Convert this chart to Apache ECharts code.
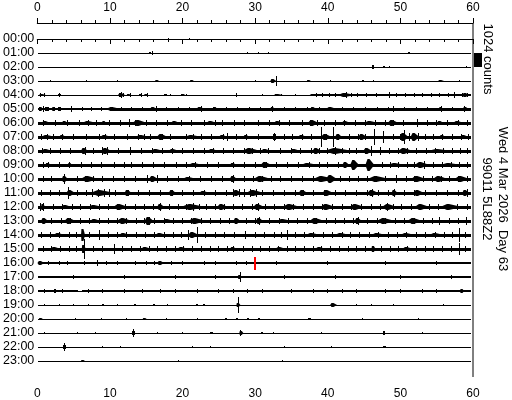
<!DOCTYPE html>
<html>
<head>
<meta charset="utf-8">
<script src="https://cdn.jsdelivr.net/npm/echarts@6/dist/echarts.min.js"></script>
<style>html,body{margin:0;padding:0;background:#fff}#c{width:512px;height:400px}</style>
</head>
<body>
<div id="c"></div>
<script>
// ---- data ----
const hourLabels = ['00:00','01:00','02:00','03:00','04:00','05:00','06:00','07:00','08:00','09:00','10:00','11:00',
  '12:00','13:00','14:00','15:00','16:00','17:00','18:00','19:00','20:00','21:00','22:00','23:00'];
const xTicks = [0, 10, 20, 30, 40, 50, 60];
const countsPerRow = 1024;           // trace offset between hour rows (= scale bar)
const scaleBarCounts = 1024;
const scaleLabel = '1024 counts';
const dateLabel = 'Wed 4 Mar 2026  Day 63';
const stationLabel = '99011 5L88Z2';

// background noise per row: [fromMinute, toMinute, peak-to-peak counts]
const noiseBands = [
  [[0.1,59.7,70]],
  [[0.1,59.7,70]],
  [[0.1,59.7,70]],
  [[0.1,59.7,70]],
  [[0.1,59.7,80],[38,59.7,120]],
  [[0.1,10,110],[10,59.7,210]],
  [[0.1,59.7,220]],
  [[0.1,59.7,230]],
  [[0.1,59.7,230]],
  [[0.1,59.7,220]],
  [[0.1,59.7,240]],
  [[0.1,59.7,250]],
  [[0.1,59.7,250]],
  [[0.1,59.7,240]],
  [[0.1,59.7,230]],
  [[0.1,59.7,210]],
  [[0.1,30,170],[30,59.7,160]],
  [[0.1,59.7,180]],
  [[0.1,5.6,140],[5.6,6.1,70],[6.1,59.7,140]],
  [[0.1,59.7,70]],
  [[0.1,59.7,70]],
  [[0.1,59.7,70]],
  [[0.1,59.7,70]],
  [[0.1,59.7,70]]
];

// bursts per row: [minute, half amplitude counts, duration minutes]
const bursts = [
  /*00*/ [[18.1,70,0.15],[21.0,70,0.15]],
  /*01*/ [[15.5,80,0.3],[15.9,170,0.15],[29.0,50,0.1],[30.4,50,0.1],[31.8,60,0.2],[51.2,90,0.3]],
  /*02*/ [[46.2,110,0.3],[47.8,60,0.3],[48.5,60,0.2],[59.1,70,0.1]],
  /*03*/ [[1.8,50,0.1],[6.8,50,0.1],[11.1,50,0.1],[16.5,80,0.6],[21.3,90,0.5],[30.0,50,0.2],[32.5,110,0.8],
          [33.0,350,0.15],[37.4,90,0.6],[40.4,50,0.1],[44.8,60,0.3],[46.3,70,0.1],[55.6,80,0.8],[58.2,50,0.1]],
  /*04*/ [[0.7,90,0.9],[3.1,100,0.4],[11.6,130,1.0],[12.6,90,0.6],[14.2,90,0.4],[15.0,100,0.5],
          [17.6,80,0.4],[20.1,70,0.6],[33.2,80,1.2],[38.0,90,1.0],[39.8,100,2.0],[42.6,130,2.5],[44.8,100,1.5],
          [46.7,90,0.5],[49.5,100,1.0],[51.5,90,1.5],[54.0,100,2.0],[56.2,100,1.5],[59.0,110,1.0]],
  /*05*/ [[0.5,170,0.6],[1.3,150,0.4],[2.3,110,0.5],[3.0,120,0.4],[5.5,90,0.8],[8.5,100,1.5],
          [10.5,150,2.0],[16.0,170,1.0],[22.5,150,1.2],[24.5,140,0.6],[32.4,150,0.5],[38.0,140,0.8],
          [40.5,140,1.5],[55.6,150,0.6],[59.0,160,0.8]],
  /*06*/ [[1.2,170,1.2],[3.8,160,0.8],[7.2,170,2.0],[9.2,160,0.6],[14.1,190,2.0],
          [19.0,160,1.2],[24.0,160,1.5],[33.2,180,1.2],[38.0,190,1.5],
          [42.5,170,1.2],[46.0,160,2.0],[49.0,190,1.5],[55.5,160,1.0],[58.0,170,1.5]],
  /*07*/ [[1.5,180,2.0],[3.5,170,1.0],[9.4,170,1.5],[14.5,180,2.0],[17.2,190,1.5],[21.5,180,2.5],[25.6,180,1.2],
          [28.8,170,0.8],[32.6,240,0.4],[36.5,180,1.2],[39.1,730,0.15],[40.8,730,0.15],
          [39.8,230,1.5],[41.5,210,1.0],[44.8,190,1.2],[46.4,580,0.15],[47.7,430,0.15],[50.5,280,1.2],
          [50.6,500,0.15],[52.0,300,1.2],[55.8,180,0.8],[58.8,180,1.2]],
  /*08*/ [[1.3,180,1.5],[6.5,190,1.0],[9.5,250,1.4],[16.5,180,1.8],[18.8,180,1.5],[24.2,170,1.5],[29.5,190,2.5],
          [31.5,180,1.5],[35.5,170,1.5],[38.5,200,1.2],[41.5,220,4.0],[45.5,230,1.2],[50.7,190,2.0],[55.5,180,3.5]],
  /*09*/ [[1.5,170,0.8],[4.5,180,0.5],[21.8,180,2.0],[27.0,170,1.0],[31.5,190,1.5],[37.5,180,2.5],[42.5,190,1.0],
          [43.7,330,1.2],[45.8,440,1.2],[49.5,180,2.5],[53.0,190,2.0],[57.0,170,3.0]],
  /*10*/ [[3.8,210,0.8],[7.2,190,2.5],[16.0,250,1.2],[21.0,180,2.0],[27.0,230,1.0],[31.0,200,2.5],
          [39.5,220,3.0],[40.5,320,1.5],[47.0,200,3.0],[52.5,200,2.0],[55.5,210,2.0],[58.5,210,2.0]],
  /*11*/ [[4.6,230,1.2],[9.0,240,3.5],[12.5,190,1.0],[18.6,210,1.0],[23.0,180,1.5],[27.5,250,1.2],
          [30.0,230,2.5],[36.6,210,1.2],[40.0,200,1.5],[46.2,230,1.5],[49.2,210,0.8],[52.5,190,1.5],[59.0,230,1.0]],
  /*12*/ [[0.8,220,0.6],[4.0,180,1.5],[8.0,180,2.0],[11.5,190,2.0],[17.0,250,1.0],[21.5,220,3.5],[25.5,190,1.5],
          [30.5,250,1.5],[35.0,200,2.5],[40.0,190,2.0],[44.0,190,2.0],[48.5,230,2.0],[53.0,190,2.0],[57.0,200,3.0]],
  /*13*/ [[1.0,200,1.0],[4.5,190,1.5],[8.0,180,1.5],[12.0,190,2.0],[15.4,290,1.2],[18.0,180,1.5],[22.0,190,2.5],
          [27.5,210,1.0],[30.6,200,1.0],[34.0,180,2.0],[38.5,190,2.0],[44.2,210,1.0],[48.0,200,2.5],[52.0,190,2.0]],
  /*14*/ [[3.0,180,1.5],[6.3,430,0.6],[12.0,170,1.5],[17.0,170,1.5],[21.5,210,1.5],
          [22.1,580,0.15],[38.0,180,2.0],[42.0,180,2.0],[47.0,180,2.0],
          [51.0,180,2.0],[55.0,180,2.0],[58.1,500,0.2]],
  /*15*/ [[2.5,150,1.5],[6.4,300,0.5],[6.5,730,0.15],[15.0,150,1.5],[20.0,150,1.5],[27.0,160,1.0],
          [33.5,150,1.5],[39.0,150,1.5],[46.3,240,0.6],[51.0,150,1.5],[58.2,430,0.15]],
  /*16*/ [[0.5,110,1.0],[5.0,100,0.5],[8.3,190,0.15],[12.0,100,0.5],[17.0,110,1.0],[21.5,100,0.4],[26.0,100,0.3],
          [36.0,90,0.3],[45.0,90,0.3]],
  /*17*/ [[24.5,110,0.2],[27.9,160,0.6],[28.0,370,0.2],[34.0,100,0.2]],
  /*18*/ [[2.5,150,0.3],[10.0,90,0.3],[20.5,90,0.3],[33.0,90,0.3],[46.0,90,0.3],[58.5,150,0.5]],
  /*19*/ [[1.0,50,0.1],[3.0,50,0.1],[5.0,50,0.1],[7.0,50,0.1],[9.0,60,0.3],[11.0,50,0.1],[13.5,60,0.3],[16.1,90,0.3],
          [18.0,50,0.1],[22.0,60,0.3],[23.0,60,0.3],[27.7,180,0.5],[27.7,580,0.15],[40.8,110,1.0],[44.0,50,0.1],
          [46.0,50,0.1],[49.0,50,0.1],[56.0,50,0.1]],
  /*20*/ [[0.5,60,0.6],[5.2,50,0.1],[8.8,50,0.1],[12.3,50,0.1],[14.8,70,0.5],[17.8,50,0.2],[22.0,50,0.2],
          [26.0,50,0.3],[27.5,60,0.3],[29.0,50,0.3],[30.5,70,0.3],[37.5,60,0.4],[44.8,50,0.1],[52.5,50,0.1]],
  /*21*/ [[1.0,50,0.2],[5.5,50,0.1],[8.0,50,0.1],[13.2,290,0.15],[13.3,130,0.4],[16.5,50,0.1],[20.0,60,0.2],
          [24.0,60,0.4],[28.0,220,0.15],[28.1,120,0.5],[31.0,60,0.3],[32.5,60,0.1],[39.2,60,0.1],[47.7,110,0.3],[53.0,50,0.1]],
  /*22*/ [[3.8,290,0.15],[3.8,110,0.4],[9.0,50,0.1],[11.5,50,0.1],[21.4,70,0.2],[23.8,80,0.2],[34.0,50,0.1],
          [40.5,50,0.1],[47.8,70,0.4]],
  /*23*/ [[6.3,100,0.5],[19.4,90,0.15],[33.8,50,0.1]]
];

// short single wiggles (1 px wide) per row: [minute, half amplitude counts]
const spikes = [
  /*00*/ [], /*01*/ [], /*02*/ [], /*03*/ [],
  /*04*/ [[0.5,110],[1.0,110],[3.1,130],[11.3,150],[11.6,200],[11.9,150],[12.8,110],[14.3,120],[15.2,120],[17.5,100],
          [18.4,90],[19.9,100],[20.6,100],[27.4,130],[31.0,90],[32.8,100],[33.6,100],[35.5,80],[38.4,110],[39.3,120],
          [40.2,110],[41.0,110],[42.4,150],[42.6,200],[43.3,140],[44.1,130],[45.4,120],[46.7,110],[48.5,200],[49.4,120],
          [50.7,110],[51.9,120],[53.1,110],[54.3,120],[55.4,110],[56.6,120],[57.4,200],[58.5,120],[59.3,130]],
  /*05*/ [[0.3,170],[0.9,190],[1.6,150],[2.4,140],[3.2,140],[4.7,220],[6.2,120],[7.4,120],[8.9,120],[10.3,160],
          [11.6,180],[13.0,170],[14.5,180],[16.4,240],[17.8,170],[19.4,180],[21.0,180],[22.6,190],[24.2,180],[26.0,170],
          [27.6,170],[29.2,180],[30.8,170],[32.4,190],[34.0,180],[35.6,170],[37.2,180],[38.8,180],[40.4,180],[42.0,170],
          [43.6,180],[45.2,180],[46.8,170],[48.4,180],[49.0,200],[50.6,170],[52.2,180],[53.8,170],[55.6,200],[57.2,180],[58.8,210]],
  /*06*/ [[0.8,210],[2.5,200],[4.2,220],[5.8,200],[7.0,230],[8.2,210],[10.0,200],[11.5,210],[12.7,270],[13.5,220],
          [15.0,210],[16.4,250],[18.0,200],[19.8,210],[21.2,200],[23.0,210],[24.5,220],[25.5,250],[27.1,240],[28.5,200],
          [30.5,210],[32.0,200],[33.3,220],[34.8,210],[36.5,200],[37.6,220],[38.6,230],[39.6,250],[41.0,210],[42.3,220],
          [43.8,200],[45.2,210],[46.6,220],[48.0,210],[49.0,240],[50.4,210],[52.4,270],[53.7,210],[55.0,200],[56.5,210],
          [58.0,220],[59.2,210]],
  /*07*/ [[0.6,220],[1.4,230],[2.3,210],[3.5,230],[5.0,210],[6.8,200],[8.5,220],[9.4,230],[10.6,210],[12.4,200],
          [14.0,220],[14.8,230],[15.6,220],[17.2,240],[18.4,210],[20.5,220],[21.5,240],[22.6,220],[24.0,210],[25.6,230],
          [26.2,280],[27.5,210],[28.8,230],[30.5,210],[32.6,280],[34.0,210],[35.2,220],[36.5,230],[37.8,210],[39.8,250],
          [41.5,240],[43.0,220],[44.3,230],[45.2,220],[49.0,230],[50.0,250],[51.2,260],[52.5,270],[53.5,230],[54.5,220],
          [55.8,230],[57.2,220],[58.4,230],[59.4,220]],
  /*08*/ [[0.7,220],[1.8,210],[3.2,220],[4.6,210],[6.6,270],[7.8,220],[9.0,310],[9.7,310],[11.2,210],[12.9,260],
          [14.3,210],[15.8,220],[17.2,230],[18.6,220],[20.0,210],[21.5,220],[23.0,210],[24.2,220],[25.6,210],[27.0,220],
          [28.5,230],[29.6,240],[30.7,230],[31.8,220],[33.5,210],[35.0,220],[36.2,210],[37.7,230],[38.8,240],[40.0,250],
          [41.0,260],[42.0,250],[43.0,240],[44.0,230],[45.2,250],[46.0,330],[47.2,280],[48.5,220],[49.8,230],[51.0,220],
          [52.2,210],[53.6,220],[54.8,230],[56.0,220],[57.2,230],[58.3,220],[59.3,210]],
  /*09*/ [[0.8,200],[1.5,210],[3.0,200],[4.5,220],[6.1,250],[7.5,200],[8.8,240],[10.7,210],[12.0,200],[13.0,210],
          [14.5,200],[16.0,200],[17.5,210],[19.2,210],[20.5,200],[21.8,220],[23.5,200],[25.0,200],[27.0,220],[28.5,200],
          [30.0,210],[31.5,220],[33.0,200],[34.5,210],[36.0,210],[37.5,220],[38.8,210],[40.0,200],[41.5,210],[42.5,230],
          [47.5,210],[48.7,220],[49.8,210],[51.0,210],[52.0,220],[53.3,300],[54.5,210],[55.8,210],[57.0,220],[58.2,210],[59.3,210]],
  /*10*/ [[0.8,230],[2.0,220],[3.8,350],[5.5,230],[6.7,240],[7.8,230],[9.0,220],[10.5,230],[12.0,220],[13.5,230],
          [15.2,270],[16.5,280],[18.0,220],[19.5,230],[21.0,240],[22.5,220],[24.0,230],[25.5,220],[27.0,280],[28.5,230],
          [29.8,240],[31.0,250],[32.2,230],[33.5,220],[35.0,230],[36.5,220],[38.0,240],[39.2,250],[41.8,250],[43.0,230],
          [44.3,220],[45.5,240],[46.7,230],[47.9,240],[49.5,300],[50.8,230],[52.0,240],[53.2,230],[54.4,240],[55.6,240],
          [56.8,230],[58.0,250],[59.2,240]],
  /*11*/ [[0.6,240],[1.8,230],[3.0,240],[4.3,410],[5.5,250],[6.8,240],[7.6,260],[8.4,270],[9.2,260],[10.0,270],
          [10.8,250],[12.5,240],[14.0,230],[15.5,240],[17.0,230],[18.6,250],[20.0,230],[21.5,240],[23.0,230],[24.5,240],
          [26.0,230],[27.0,270],[27.8,260],[28.6,270],[29.4,260],[30.2,270],[31.0,250],[32.5,240],[34.0,230],[35.5,240],
          [36.6,250],[38.0,230],[39.5,240],[41.0,230],[42.5,240],[44.0,230],[45.5,250],[46.2,280],[47.0,250],[48.4,240],
          [49.2,260],[50.5,240],[52.0,230],[53.5,240],[55.0,230],[56.5,240],[58.0,250],[59.2,260]],
  /*12*/ [[0.5,260],[0.9,270],[2.2,240],[3.5,230],[4.8,240],[6.0,230],[7.3,240],[8.5,230],[9.8,240],[11.0,240],
          [12.2,230],[13.5,240],[14.8,230],[16.0,240],[17.0,290],[18.2,240],[19.5,230],[20.6,250],[21.5,260],[22.4,250],
          [23.3,240],[24.5,230],[25.8,240],[27.0,230],[28.3,240],[29.6,250],[30.5,290],[31.4,250],[32.6,240],[34.0,230],
          [35.3,240],[36.6,230],[38.0,240],[39.3,230],[40.6,240],[42.0,230],[43.3,240],[44.6,230],[46.0,240],[47.3,250],
          [48.2,260],[49.0,250],[50.2,240],[51.5,230],[52.8,240],[54.0,230],[55.3,240],[56.6,240],[57.9,250],[59.2,240]],
  /*13*/ [[0.8,230],[2.0,220],[3.3,230],[4.6,230],[6.0,220],[7.2,230],[8.5,220],[9.8,230],[11.0,220],[12.3,230],
          [13.6,220],[14.8,240],[15.4,320],[16.1,250],[17.5,220],[18.8,230],[20.0,220],[21.3,230],[22.6,230],[23.9,220],
          [25.2,230],[26.5,220],[27.5,250],[28.8,230],[30.0,230],[30.6,260],[32.0,220],[33.3,230],[34.6,220],[35.9,230],
          [37.2,220],[38.5,230],[39.8,220],[41.0,230],[42.3,220],[43.6,230],[44.2,260],[45.5,220],[46.8,230],[48.0,230],
          [49.3,220],[50.6,230],[51.9,220],[53.2,230],[54.4,220],[55.4,260],[56.8,220],[58.0,230],[59.1,260]],
  /*14*/ [[0.6,210],[1.8,220],[3.0,220],[4.4,210],[5.4,220],[7.2,220],[8.6,330],[9.8,210],[11.0,220],[12.3,210],
          [13.6,220],[14.9,210],[16.2,220],[17.5,210],[18.8,220],[19.9,230],[20.8,330],[23.2,220],[24.5,210],[25.8,220],
          [27.1,210],[28.7,280],[30.0,220],[31.3,210],[32.6,220],[33.6,210],[34.4,390],[35.5,220],[36.8,210],[38.1,220],
          [39.4,210],[40.7,220],[42.0,210],[43.1,240],[44.4,210],[45.7,220],[47.0,210],[48.3,220],[49.6,210],[50.9,220],
          [52.2,210],[53.5,220],[54.8,210],[56.1,220],[57.2,230],[59.0,220]],
  /*15*/ [[0.8,200],[2.0,190],[3.2,200],[4.4,190],[5.4,200],[7.8,200],[9.0,190],[10.6,330],[11.8,200],[13.0,190],
          [14.2,200],[15.4,190],[16.6,200],[17.8,190],[19.0,200],[20.2,190],[21.4,200],[22.6,190],[23.8,200],[25.0,190],
          [26.2,200],[27.0,210],[28.4,190],[29.6,200],[30.8,190],[32.0,200],[33.2,190],[34.4,200],[35.6,190],[36.8,200],
          [38.0,190],[39.2,200],[40.4,190],[41.6,200],[42.8,190],[44.0,200],[45.2,200],[47.4,200],[48.6,190],[49.8,200],
          [51.0,190],[52.2,200],[53.4,190],[54.6,200],[55.8,190],[57.0,200],[59.0,200]],
  /*16*/ [[1.5,130],[3.0,130],[4.2,120],[6.5,130],[9.5,120],[11.0,130],[13.5,120],[15.0,130],[16.2,120],[18.5,130],
          [20.0,120],[23.0,130],[24.5,120],[27.5,120],[28.8,120],[33.0,110],[40.0,110],[48.0,110],[55.0,110]],
  /*17*/ [[5.0,120],[12.0,120],[19.0,120],[24.5,130],[34.0,120],[41.0,120],[50.0,120],[57.0,120]],
  /*18*/ [[1.0,110],[3.5,110],[7.0,110],[9.0,110],[12.0,110],[14.5,110],[17.0,110],[19.0,110],[22.0,110],[25.0,110],
          [27.0,110],[29.0,110],[31.0,110],[35.0,110],[38.0,110],[40.0,110],[42.0,110],[44.0,110],[48.0,110],[50.0,110],
          [53.0,110],[55.0,110]],
  /*19*/ [], /*20*/ [], /*21*/ [], /*22*/ [], /*23*/ []
];

// red pick marker: [row, minute, half amplitude counts]
const pickMarks = [[16, 30.0, 470]];

// ---- build series data ----
const noiseData = [];
noiseBands.forEach((bands, r) => bands.forEach(b => noiseData.push([r, b[0], b[1], b[2]])));
const burstData = [];
bursts.forEach((list, r) => list.forEach(b => burstData.push([r, b[0], b[1], b[2]])));
spikes.forEach((list, r) => list.forEach(s => burstData.push([r, s[0], s[1], 0])));

const chart = echarts.init(document.getElementById('c'), null, {renderer: 'canvas'});
const FONT = 'Liberation Sans, Arial, sans-serif';

function renderNoise(params, api) {
  const r = api.value(0), a = api.value(1), b = api.value(2), pp = api.value(3);
  const base = r * countsPerRow;
  const p1 = api.coord([a, base]);
  const p2 = api.coord([b, base]);
  const h = Math.max(1, Math.round(api.size([0, pp])[1]));
  return {type: 'rect', shape: {x: Math.round(p1[0]), y: Math.round(p1[1] - h / 2), width: Math.round(p2[0] - p1[0]), height: h},
    style: {fill: '#000'}};
}
function renderBurst(params, api) {
  const r = api.value(0), m = api.value(1), amp = api.value(2), d = api.value(3);
  const base = r * countsPerRow;
  const c = api.coord([m, base]);
  const top = Math.round(api.coord([m, base - amp])[1]);
  const bot = Math.round(api.coord([m, base + amp])[1]);
  const w = Math.max(1, Math.round(api.size([d, 0])[0]));
  if (w <= 3) {
    return {type: 'rect', shape: {x: Math.round(c[0] - w / 2), y: top, width: w, height: Math.max(1, bot - top)},
      style: {fill: '#000'}};
  }
  // spindle-shaped envelope for longer bursts
  const x0 = c[0] - w / 2, x1 = c[0] + w / 2, xm = c[0] - w * 0.15;
  return {type: 'polygon', shape: {points: [[x0, c[1]], [xm - 1, top], [xm + 1, top], [x1, c[1]], [xm + 1, bot], [xm - 1, bot]]},
    style: {fill: '#000'}};
}
function renderPick(params, api) {
  const r = api.value(0), m = api.value(1), amp = api.value(2);
  const base = r * countsPerRow;
  const t = api.coord([m, base - amp]);
  const b = api.coord([m, base + amp]);
  return {type: 'rect', shape: {x: Math.round(t[0]) - 1, y: Math.round(t[1]), width: 2, height: Math.round(b[1] - t[1])},
    style: {fill: '#ff0000'}};
}
function renderScale(params, api) {
  const r = api.value(0);
  const t = api.coord([60, r * countsPerRow]);
  const b = api.coord([60, r * countsPerRow + scaleBarCounts]);
  return {type: 'rect', shape: {x: Math.round(t[0]) + 1, y: Math.round(t[1]), width: 8, height: Math.round(b[1] - t[1])},
    style: {fill: '#000'}};
}

const axisCommon = {
  type: 'value', min: xTicks[0], max: xTicks[xTicks.length - 1], interval: 10, offset: 2,
  axisLine: {show: true, lineStyle: {color: '#000', width: 1}},
  axisTick: {show: true, length: 5, lineStyle: {color: '#000'}},
  minorTick: {show: true, splitNumber: 5, length: 3, lineStyle: {color: '#000'}},
  splitLine: {show: false},
  axisLabel: {color: '#000', fontSize: 12, fontFamily: FONT, margin: 9}
};

chart.setOption({
  animation: false,
  backgroundColor: '#fff',
  grid: {left: 35, right: 39, top: 25, bottom: 25, containLabel: false},
  xAxis: [
    Object.assign({}, axisCommon, {position: 'bottom', axisLabel: Object.assign({}, axisCommon.axisLabel, {margin: 11})}),
    Object.assign({}, axisCommon, {position: 'top'})
  ],
  yAxis: {
    type: 'value', inverse: true, min: -countsPerRow, max: countsPerRow * 24, interval: countsPerRow,
    axisLine: {show: false}, axisTick: {show: false}, splitLine: {show: false},
    axisLabel: {color: '#000', fontSize: 12.5, fontFamily: FONT, margin: 3,
      formatter: v => { const i = Math.round(v / countsPerRow); return (i >= 0 && i < hourLabels.length) ? hourLabels[i] : ''; }}
  },
  series: [
    {type: 'custom', renderItem: renderNoise, data: noiseData, silent: true},
    {type: 'custom', renderItem: renderBurst, data: burstData, silent: true},
    {type: 'custom', renderItem: renderPick, data: pickMarks, silent: true},
    {type: 'custom', renderItem: renderScale, data: [[1]], clip: false, silent: true}
  ],
  graphic: [
    {type: 'line', shape: {x1: 473, y1: 23, x2: 473, y2: 377}, style: {stroke: '#000', lineWidth: 1}, silent: true},
    {type: 'text', x: 488, y: 59, rotation: -Math.PI / 2,
      style: {text: scaleLabel, fontSize: 13, fontFamily: FONT, fill: '#000', align: 'center', verticalAlign: 'middle'}},
    {type: 'text', x: 487, y: 199, rotation: -Math.PI / 2,
      style: {text: stationLabel, fontSize: 13, fontFamily: FONT, fill: '#000', align: 'center', verticalAlign: 'middle'}},
    {type: 'text', x: 503, y: 199, rotation: -Math.PI / 2,
      style: {text: dateLabel, fontSize: 13, fontFamily: FONT, fill: '#000', align: 'center', verticalAlign: 'middle'}}
  ]
});
</script>
</body>
</html>
